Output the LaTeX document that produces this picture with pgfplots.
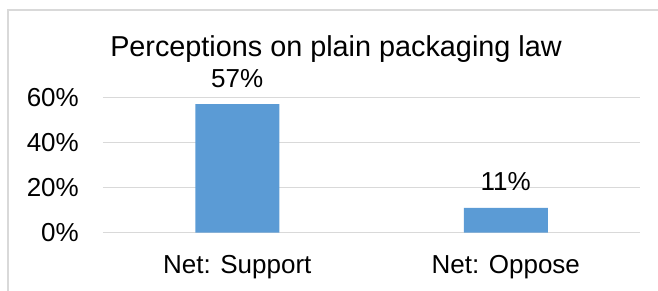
\documentclass[border=0pt]{standalone}
\usepackage{pgfplots}
\pgfplotsset{compat=1.18}
\usepackage{fontspec}
\setmainfont{Liberation Sans}
\definecolor{gridgray}{HTML}{D9D9D9}
\definecolor{barblue}{HTML}{5B9BD5}
\begin{document}
\begin{tikzpicture}
\path[use as bounding box] (-103bp,-58.3bp) rectangle (555bp,232.7bp);
\draw[gridgray, line width=1.5bp] (-95bp,-80bp) rectangle (580bp,222.7bp);
\begin{axis}[
  at={(0,0)}, anchor=south west,
  scale only axis,
  width=537bp, height=135.4bp,
  xmin=-0.5, xmax=1.5,
  ymin=0, ymax=60,
  ybar, bar width=84bp,
  axis line style={draw=none},
  major tick length=0pt,
  ytick={0,20,40,60},
  ymajorgrids,
  grid style={gridgray, line width=1.5bp},
  xtick={0,1},
  xticklabels={Net: Support, Net: Oppose},
  font=\fontsize{26bp}{30bp}\selectfont,
  /pgf/number format/assume math mode=true,
  yticklabel={\pgfmathprintnumber{\tick}\%},
  yticklabel style={anchor=east, inner sep=0pt, xshift=-24bp},
  xticklabel style={anchor=base, inner sep=0pt, yshift=-40.6bp},
  nodes near coords={\pgfmathprintnumber{\pgfplotspointmeta}\%},
  nodes near coords style={anchor=base, inner sep=0pt, yshift=17bp, text=black},
  clip=false,
]
\addplot[fill=barblue, draw=none] coordinates {(0,57) (1,11)};
\end{axis}
\node[anchor=base, inner sep=0pt, font=\fontsize{28.8bp}{33bp}\selectfont] at (233bp,176bp) {Perceptions on plain packaging law};
\end{tikzpicture}
\end{document}
